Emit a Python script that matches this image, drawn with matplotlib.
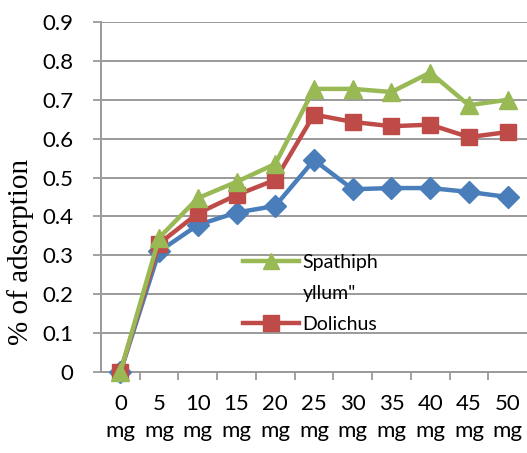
import matplotlib
matplotlib.use("Agg")
import matplotlib.pyplot as plt
from matplotlib.lines import Line2D
import numpy as np

categories = ["0\nmg", "5\nmg", "10\nmg", "15\nmg", "20\nmg", "25\nmg",
              "30\nmg", "35\nmg", "40\nmg", "45\nmg", "50\nmg"]
series_blue = [0.0, 0.31, 0.378, 0.41, 0.427, 0.545, 0.47, 0.473, 0.473, 0.463, 0.45]
dolichus = [0.0, 0.33, 0.408, 0.455, 0.494, 0.662, 0.643, 0.632, 0.636, 0.604, 0.617]
spathiphyllum = [0.0, 0.345, 0.447, 0.489, 0.535, 0.728, 0.728, 0.72, 0.77, 0.686, 0.70]
y_ticks = [0, 0.1, 0.2, 0.3, 0.4, 0.5, 0.6, 0.7, 0.8, 0.9]
y_ticklabels = ["0", "0.1", "0.2", "0.3", "0.4", "0.5", "0.6", "0.7", "0.8", "0.9"]
legend_labels = ["Spathiph", 'yllum"', "Dolichus"]
ylabel = "% of adsorption"

W, H = 527, 453
fig = plt.figure(figsize=(W / 100, H / 100), dpi=100)
ax = fig.add_axes([101 / W, 1 - 372 / H, 1 - 101 / W, (372 - 22) / H])

blue = "#4A7EBB"
red = "#BE4B48"
green = "#98B954"
grid_c = "#9A9A9A"

x = np.arange(len(categories))
ax.plot(x, series_blue, color=blue, lw=3.2, marker="D", ms=11, zorder=3, clip_on=False)
ax.plot(x, dolichus, color=red, lw=3.2, marker="s", ms=12, zorder=4, clip_on=False)
ax.plot(x, spathiphyllum, color=green, lw=3.2, marker="^", ms=13, zorder=5, clip_on=False)

ax.set_xlim(-0.5, len(categories) - 0.5)
ax.set_ylim(0, 0.9)

tick_font = dict(family=["Lato", "DejaVu Sans"], size=16)
ax.set_yticks(y_ticks)
ax.set_yticklabels(y_ticklabels, **tick_font)
ax.set_xticks(x)
ax.set_xticklabels(categories, linespacing=1.45, **tick_font)
ax.set_xticks(np.arange(len(categories) - 1) + 0.5, minor=True)

ax.tick_params(axis="x", which="major", length=0, pad=16)
ax.tick_params(axis="x", which="minor", length=6, width=1.3, color=grid_c, direction="out")
ax.tick_params(axis="y", which="major", length=6, width=1.3, color=grid_c, pad=14, direction="out")

ax.grid(axis="y", color=grid_c, lw=1.4, zorder=0)
ax.set_axisbelow(True)
for s in ["top", "right"]:
    ax.spines[s].set_visible(False)
for s in ["left", "bottom"]:
    ax.spines[s].set_color(grid_c)
    ax.spines[s].set_linewidth(1.4)

fig.text(21 / W, 1 - 252 / H, ylabel, rotation=90, ha="center", va="center",
         family=["Liberation Serif", "DejaVu Serif"], size=21)

handles = [
    Line2D([], [], color=green, lw=3.2, marker="^", ms=11),
    Line2D([], [], color="none", lw=0),
    Line2D([], [], color=red, lw=3.2, marker="s", ms=11),
]
fig.legend(handles, legend_labels, loc="upper left",
           bbox_to_anchor=(243 / W, 1 - 254 / H), frameon=False,
           prop=dict(family=["Lato", "DejaVu Sans"], size=14),
           handlelength=2.9, handletextpad=0.15, labelspacing=0.72,
           borderaxespad=0, borderpad=0)

fig.savefig("out.png", dpi=100)
